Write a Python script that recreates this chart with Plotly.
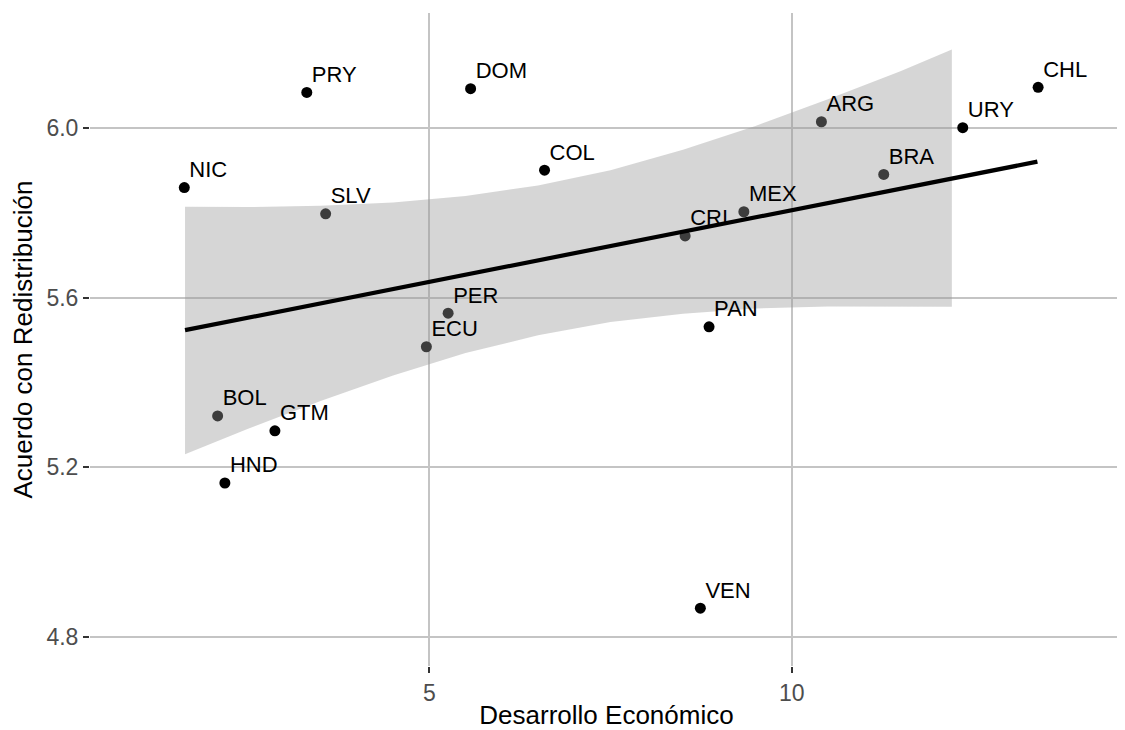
import plotly.graph_objects as go

# Data
countries = ["PRY", "NIC", "SLV", "DOM", "COL", "CRI", "MEX", "PAN", "ARG",
             "URY", "CHL", "BRA", "PER", "ECU", "BOL", "GTM", "HND", "VEN"]
desarrollo = [3.31, 1.62, 3.57, 5.57, 6.59, 8.53, 9.34, 8.86, 10.41,
              12.36, 13.40, 11.27, 5.26, 4.96, 2.08, 2.87, 2.18, 8.74]
acuerdo = [6.083, 5.859, 5.797, 6.092, 5.900, 5.745, 5.802, 5.531, 6.014,
           6.000, 6.095, 5.890, 5.563, 5.484, 5.321, 5.286, 5.163, 4.868]

# Fitted line (endpoints)
fit_x = [1.63, 13.39]
fit_y = [5.523, 5.920]

# Confidence band
band_x = [1.63, 2.5, 3.5, 4.5, 5.5, 6.5, 7.5, 8.5, 9.5, 10.5, 11.5, 12.21]
band_upper = [5.814, 5.813, 5.816, 5.824, 5.839, 5.864, 5.900, 5.948, 6.004,
              6.067, 6.133, 6.184]
band_lower = [5.231, 5.291, 5.356, 5.416, 5.469, 5.511, 5.542, 5.562, 5.574,
              5.579, 5.579, 5.578]

x_ticks = [5, 10]
y_ticks = [4.8, 5.2, 5.6, 6.0]

FONT = "Liberation Sans, Arial, Helvetica, sans-serif"

fig = go.Figure()

fig.add_trace(go.Scatter(
    x=desarrollo, y=acuerdo, mode="markers",
    marker=dict(color="black", size=11, line=dict(width=0)),
    hoverinfo="skip", showlegend=False))

fig.add_trace(go.Scatter(
    x=band_x + band_x[::-1], y=band_upper + band_lower[::-1],
    mode="lines", fill="toself", fillcolor="rgba(153,153,153,0.4)",
    line=dict(width=0, color="rgba(0,0,0,0)"),
    hoverinfo="skip", showlegend=False))

fig.add_trace(go.Scatter(
    x=desarrollo, y=acuerdo, mode="markers+text", text=countries,
    textposition="top right",
    textfont=dict(family=FONT, size=22, color="black"),
    marker=dict(color="rgba(0,0,0,0)", size=6.5, line=dict(width=0)),
    hoverinfo="skip", showlegend=False))

fig.add_trace(go.Scatter(
    x=fit_x, y=fit_y, mode="lines",
    line=dict(color="black", width=4.2),
    hoverinfo="skip", showlegend=False))

# page body has an 8px margin, so the figure is sized/placed to compensate
fig.update_layout(
    width=1117, height=722,
    margin=dict(l=82, r=2, t=5, b=64),
    paper_bgcolor="white", plot_bgcolor="white",
    font=dict(family=FONT),
    xaxis=dict(
        range=[0.319, 14.571], tickvals=x_ticks, ticktext=[str(v) for v in x_ticks],
        showgrid=True, gridcolor="#c4c4c4", gridwidth=2, zeroline=False,
        showline=False, ticks="outside", ticklen=6, tickwidth=2, tickcolor="#333333",
        tickfont=dict(size=23, color="#4d4d4d"),
        title=dict(text="Desarrollo Económico", font=dict(size=26, color="black"), standoff=10),
        automargin=False),
    yaxis=dict(
        range=[4.7319, 6.2702], tickvals=y_ticks, ticktext=["%.1f" % v for v in y_ticks],
        showgrid=True, gridcolor="#c4c4c4", gridwidth=2, zeroline=False,
        showline=False, ticks="outside", ticklen=6, tickwidth=2, tickcolor="#333333",
        tickfont=dict(size=23, color="#4d4d4d"),
        title=dict(text="Acuerdo con Redistribución", font=dict(size=26, color="black"), standoff=8),
        automargin=False),
)

fig.write_html("out.html")
